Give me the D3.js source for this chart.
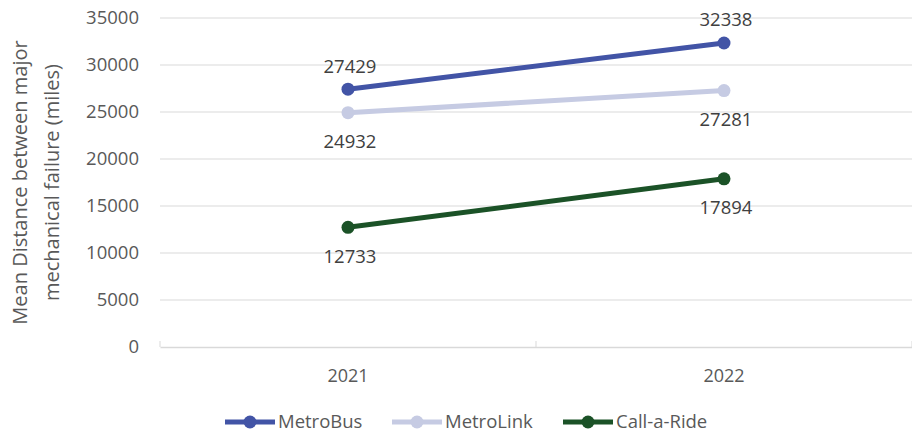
<!DOCTYPE html>
<html>
<head>
<meta charset="utf-8">
<script src="https://cdn.jsdelivr.net/npm/d3@7"></script>
<style>
  html, body { margin: 0; padding: 0; background: #fff; }
  svg { display: block; font-family: "Open Sans", "Noto Sans", sans-serif; }
</style>
</head>
<body>
<svg id="chart" width="912" height="434"></svg>
<script>
// Mean distance between major mechanical failures, by service and year
const years = ["2021", "2022"];
const seriesNames = ["MetroBus", "MetroLink", "Call-a-Ride"];
const metroBus = [27429, 32338];
const metroLink = [24932, 27281];
const callARide = [12733, 17894];
const seriesColors = ["#4254a6", "#c6cbe3", "#1b5227"];
// label placement: above or below the point, per series and year
const labelSide = [["above", "above"], ["below", "below"], ["below", "below"]];
const yTicks = [0, 5000, 10000, 15000, 20000, 25000, 30000, 35000];

const seriesValues = [metroBus, metroLink, callARide];
const series = seriesNames.map((name, i) => ({
  name, color: seriesColors[i],
  points: years.map((y, j) => ({ year: y, value: seriesValues[i][j], side: labelSide[i][j] }))
}));

const svg = d3.select("#chart");
const margin = { left: 160, right: 0, top: 18, bottom: 87 };
const W = 912, H = 434;

const x = d3.scaleBand().domain(years).range([margin.left, W - margin.right]);
const y = d3.scaleLinear().domain([0, 35000]).range([H - margin.bottom, margin.top]);

const textColor = "#595959";
const gridColor = "#d9d9d9";

// horizontal gridlines
svg.append("g")
  .selectAll("line")
  .data(yTicks.filter(t => t > 0))
  .join("line")
  .attr("x1", margin.left).attr("x2", W - margin.right)
  .attr("y1", d => y(d)).attr("y2", d => y(d))
  .attr("stroke", gridColor).attr("stroke-width", 1);

// y axis tick labels
svg.append("g")
  .selectAll("text")
  .data(yTicks)
  .join("text")
  .attr("x", 139).attr("y", d => y(d))
  .attr("dy", "0.35em")
  .attr("text-anchor", "end")
  .attr("font-size", 18.5)
  .attr("fill", textColor)
  .text(d => d);

// category axis
const xAxis = d3.axisBottom(x).tickSize(0).tickFormat("");
const gx = svg.append("g").attr("transform", `translate(0,${y(0)})`).call(xAxis);
gx.select(".domain").attr("stroke", gridColor).attr("stroke-width", 1.5);
// category boundary ticks
const bounds = [margin.left, ...years.map(d => x(d) + x.bandwidth())];
svg.append("g").selectAll("line").data(bounds).join("line")
  .attr("x1", d => d).attr("x2", d => d)
  .attr("y1", y(0) - 6).attr("y2", y(0))
  .attr("stroke", gridColor).attr("stroke-width", 1);

svg.append("g").selectAll("text").data(years).join("text")
  .attr("x", d => x(d) + x.bandwidth() / 2)
  .attr("y", y(0) + 35)
  .attr("text-anchor", "middle")
  .attr("font-size", 18)
  .attr("fill", textColor)
  .text(d => d);

// y axis title
const title = svg.append("text")
  .attr("transform", `translate(36,${(margin.top + y(0)) / 2}) rotate(-90)`)
  .attr("text-anchor", "middle")
  .attr("font-size", 20)
  .attr("fill", textColor);
title.append("tspan").attr("x", 0).attr("dy", "-0.45em").text("Mean Distance between major");
title.append("tspan").attr("x", 0).attr("dy", "1.6em").text("mechanical failure (miles)");

// lines and markers
const cx = d => x(d.year) + x.bandwidth() / 2;
const line = d3.line().x(cx).y(d => y(d.value));

const sg = svg.append("g").selectAll("g").data(series).join("g");
sg.append("path")
  .attr("d", d => line(d.points))
  .attr("fill", "none")
  .attr("stroke", d => d.color)
  .attr("stroke-width", 5)
  .attr("stroke-linecap", "round");
sg.selectAll("circle")
  .data(d => d.points.map(p => ({ ...p, color: d.color })))
  .join("circle")
  .attr("cx", cx).attr("cy", d => y(d.value))
  .attr("r", 6.5)
  .attr("fill", d => d.color);

// data labels
sg.selectAll("text.lbl")
  .data(d => d.points)
  .join("text")
  .attr("class", "lbl")
  .attr("x", d => cx(d) + 2)
  .attr("y", d => y(d.value) + (d.side === "above" ? -23 : 29))
  .attr("dy", "0.35em")
  .attr("text-anchor", "middle")
  .attr("font-size", 18.5)
  .attr("fill", "#404040")
  .text(d => d.value);

// legend
const legendX = [225, 392, 563];
const lg = svg.append("g").selectAll("g").data(series).join("g")
  .attr("transform", (d, i) => `translate(${legendX[i]},422)`);
lg.append("line").attr("x1", 0).attr("x2", 50).attr("y1", 0).attr("y2", 0)
  .attr("stroke", d => d.color).attr("stroke-width", 5);
lg.append("circle").attr("cx", 25).attr("cy", 0).attr("r", 6.5).attr("fill", d => d.color);
lg.append("text").attr("x", 53).attr("y", 0).attr("dy", "0.33em")
  .attr("font-size", 18.5).attr("fill", textColor)
  .text(d => d.name);
</script>
</body>
</html>
